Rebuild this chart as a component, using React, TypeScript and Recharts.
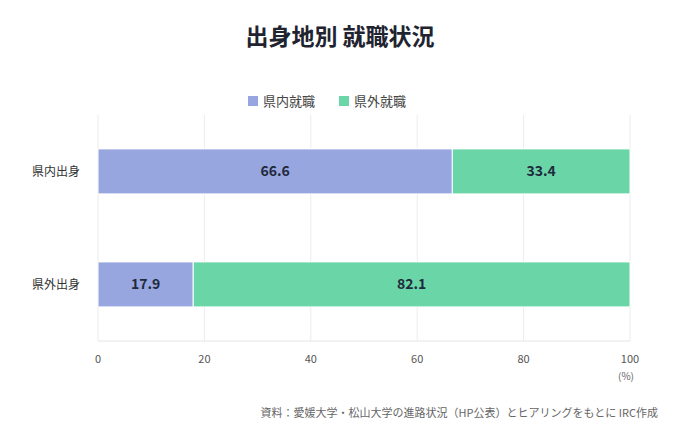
import { Bar, BarChart, CartesianGrid, LabelList, XAxis, YAxis } from "recharts";

const categories = ["県内出身", "県外出身"];
const inPref = [66.6, 17.9];
const outPref = [33.4, 82.1];
const xTicks = [0, 20, 40, 60, 80, 100];

const FONT = '"Noto Sans CJK JP", "Noto Sans", sans-serif';
const BLUE = "#98a6e0";
const GREEN = "#6ad6a8";

const data = categories.map((name, i) => ({ name, inPref: inPref[i], outPref: outPref[i] }));

function LegendBox() {
  const items = [
    { label: "県内就職", color: BLUE },
    { label: "県外就職", color: GREEN },
  ];
  return (
    <div
      style={{
        position: "absolute",
        top: 91,
        left: -13,
        width: 680,
        display: "flex",
        justifyContent: "center",
        gap: 24,
        fontSize: 13,
        color: "#444",
        fontFamily: FONT,
      }}
    >
      {items.map((it) => (
        <div key={it.label} style={{ display: "flex", alignItems: "center", gap: 5 }}>
          <span style={{ width: 10, height: 10, background: it.color, display: "inline-block" }} />
          <span>{it.label}</span>
        </div>
      ))}
    </div>
  );
}

export default function App() {
  return (
    <div style={{ position: "relative", width: 680, height: 447, background: "#fff", fontFamily: FONT }}>
      <style>{`body{margin:0}`}</style>
      <div
        style={{
          position: "absolute",
          top: 18,
          left: 0,
          width: 680,
          textAlign: "center",
          fontSize: 23,
          fontWeight: 700,
          color: "#1f2430",
        }}
      >
        出身地別 就職状況
      </div>
      <LegendBox />
      <BarChart
        width={680}
        height={447}
        data={data}
        layout="vertical"
        margin={{ top: 115, right: 50, bottom: 76, left: 20 }}
        barCategoryGap="30%"
      >
        <CartesianGrid horizontal={false} stroke="#ececec" />
        <XAxis
          type="number"
          domain={[0, 100]}
          ticks={xTicks}
          height={30}
          tick={{ fontSize: 11, fill: "#555", fontFamily: FONT }}
          axisLine={{ stroke: "#e6e6e6" }}
          tickLine={false}
          tickMargin={8}
        />
        <YAxis
          type="category"
          dataKey="name"
          width={78}
          tick={{ fontSize: 12, fill: "#333", fontFamily: FONT }}
          axisLine={false}
          tickLine={false}
          tickMargin={12}
        />
        <Bar dataKey="inPref" name="県内就職" stackId="a" fill={BLUE} stroke="#fff" strokeWidth={1} isAnimationActive={false}>
          <LabelList dataKey="inPref" position="center" fill="#1f2a3c" fontSize={14} fontWeight={700} fontFamily={FONT} />
        </Bar>
        <Bar dataKey="outPref" name="県外就職" stackId="a" fill={GREEN} stroke="#fff" strokeWidth={1} isAnimationActive={false}>
          <LabelList dataKey="outPref" position="center" fill="#1f2a3c" fontSize={14} fontWeight={700} fontFamily={FONT} />
        </Bar>
      </BarChart>
      <div style={{ position: "absolute", top: 368, left: 618, fontSize: 10, color: "#666" }}>(%)</div>
      <div style={{ position: "absolute", top: 404, right: 22, fontSize: 11, color: "#666" }}>
        資料：愛媛大学・松山大学の進路状況（HP公表）とヒアリングをもとに IRC作成
      </div>
    </div>
  );
}
